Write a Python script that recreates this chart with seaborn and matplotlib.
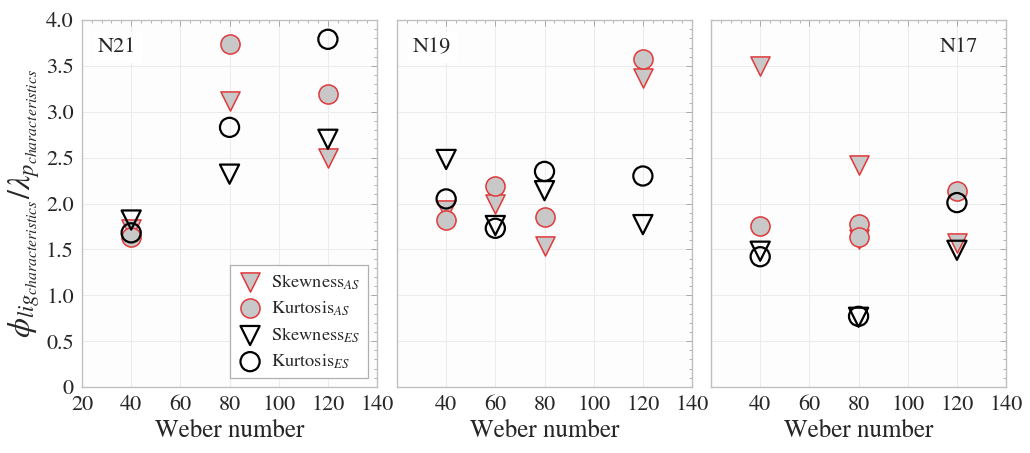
import numpy as np
import pandas as pd
import matplotlib
matplotlib.use("Agg")
import matplotlib.pyplot as plt
from matplotlib.ticker import MultipleLocator, FixedLocator, FixedFormatter
import seaborn as sns

# ---- data -------------------------------------------------------------
# N21 nozzle
n21_we_skew_as = [40, 80, 120]
n21_skew_as = [1.72, 3.12, 2.50]
n21_we_kurt_as = [40, 80, 120]
n21_kurt_as = [1.64, 3.74, 3.19]
n21_we_skew_es = [40, 80, 120]
n21_skew_es = [1.82, 2.32, 2.70]
n21_we_kurt_es = [40, 80, 120]
n21_kurt_es = [1.68, 2.83, 3.79]

# N19 nozzle
n19_we_skew_as = [40, 60, 80, 120]
n19_skew_as = [1.93, 2.00, 1.54, 3.37]
n19_we_kurt_as = [40, 60, 80, 120]
n19_kurt_as = [1.82, 2.19, 1.85, 3.57]
n19_we_skew_es = [40, 60, 80, 120]
n19_skew_es = [2.48, 1.76, 2.14, 1.77]
n19_we_kurt_es = [40, 60, 80, 120]
n19_kurt_es = [2.05, 1.73, 2.35, 2.30]

# N17 nozzle
n17_we_skew_as = [40, 80, 80, 120]
n17_skew_as = [3.50, 2.42, 1.61, 1.57]
n17_we_kurt_as = [40, 80, 80, 120]
n17_kurt_as = [1.76, 1.78, 1.63, 2.14]
n17_we_skew_es = [40, 80, 120]
n17_skew_es = [1.48, 0.76, 1.49]
n17_we_kurt_es = [40, 80, 120]
n17_kurt_es = [1.42, 0.77, 2.01]

panel_names = ["N21", "N19", "N17"]
series_labels = [r"Skewness$_{AS}$", r"Kurtosis$_{AS}$",
                 r"Skewness$_{ES}$", r"Kurtosis$_{ES}$"]
x_ticks = [20, 40, 60, 80, 100, 120, 140]
y_ticks = [0, 0.5, 1.0, 1.5, 2.0, 2.5, 3.0, 3.5, 4.0]
y_tick_labels = ["0", "0.5", "1.0", "1.5", "2.0", "2.5", "3.0", "3.5", "4.0"]

panels = [
    [(n21_we_skew_as, n21_skew_as), (n21_we_kurt_as, n21_kurt_as),
     (n21_we_skew_es, n21_skew_es), (n21_we_kurt_es, n21_kurt_es)],
    [(n19_we_skew_as, n19_skew_as), (n19_we_kurt_as, n19_kurt_as),
     (n19_we_skew_es, n19_skew_es), (n19_we_kurt_es, n19_kurt_es)],
    [(n17_we_skew_as, n17_skew_as), (n17_we_kurt_as, n17_kurt_as),
     (n17_we_skew_es, n17_skew_es), (n17_we_kurt_es, n17_kurt_es)],
]

# ---- style ------------------------------------------------------------
sns.set_theme(style="white")
plt.rcParams["font.family"] = ["STIXGeneral", "Liberation Serif", "DejaVu Serif"]
plt.rcParams["mathtext.fontset"] = "stix"

RED = "#e0393b"
FILL = "#c8c8c8"
styles = [
    dict(marker="v", facecolor=FILL, edgecolor=RED, linewidth=1.1),
    dict(marker="o", facecolor=FILL, edgecolor=RED, linewidth=1.1),
    dict(marker="v", facecolor="none", edgecolor="black", linewidth=1.6),
    dict(marker="o", facecolor="none", edgecolor="black", linewidth=1.6),
]
MS = 190

fig = plt.figure(figsize=(10.30, 4.53), dpi=100)
lefts = [0.0796, 0.3854, 0.6903]
width = 0.2865
bottom, top = 0.1457, 0.9558
axes = [fig.add_axes([l, bottom, width, top - bottom]) for l in lefts]

for i, (ax, series, name) in enumerate(zip(axes, panels, panel_names)):
    ax.set_facecolor("#fdfdfd")
    for (xs, ys), st, lab in zip(series, styles, series_labels):
        df = pd.DataFrame({"We": xs, "val": ys})
        sns.scatterplot(data=df, x="We", y="val", ax=ax, s=MS,
                        marker=st["marker"], facecolor=st["facecolor"],
                        edgecolor=st["edgecolor"], linewidth=st["linewidth"],
                        label=lab if i == 0 else None, legend=False, zorder=3)
    ax.set_xlim(20, 140)
    ax.set_ylim(0, 4.0)
    ax.xaxis.set_major_locator(FixedLocator(x_ticks))
    ax.xaxis.set_minor_locator(MultipleLocator(4))
    ax.yaxis.set_major_locator(FixedLocator(y_ticks))
    ax.yaxis.set_minor_locator(MultipleLocator(0.1))
    ax.grid(True, which="major", color="#ececec", linewidth=0.8, zorder=0)
    ax.set_axisbelow(True)
    ax.tick_params(which="both", direction="in", top=True, right=True,
                   color="#a8a8a8", labelsize=16, pad=6)
    ax.tick_params(which="major", length=4, width=0.7)
    ax.tick_params(which="minor", length=2.5, width=0.6)
    for sp in ax.spines.values():
        sp.set_color("#c0c0c0")
        sp.set_linewidth(1.0)
    if i == 0:
        ax.yaxis.set_major_formatter(FixedFormatter(y_tick_labels))
        ax.xaxis.set_major_formatter(FixedFormatter([str(t) for t in x_ticks]))
        ax.set_ylabel(r"$\phi_{lig_{characteristics}}/\lambda_{p_{characteristics}}$",
                      fontsize=23, labelpad=3)
    else:
        ax.set_yticklabels([])
        ax.set_ylabel("")
        ax.xaxis.set_major_formatter(
            FixedFormatter([""] + [str(t) for t in x_ticks[1:]]))
    ax.set_xlabel("Weber number", fontsize=18, labelpad=3)
    if i == 2:
        ax.text(0.84, 0.925, name, transform=ax.transAxes, fontsize=16,
                ha="center", va="center")
    else:
        ax.text(0.12, 0.925, name, transform=ax.transAxes, fontsize=16,
                ha="center", va="center",
                bbox=dict(facecolor="white", edgecolor="none", pad=4))

leg = axes[0].legend(loc="lower right", bbox_to_anchor=(0.968, 0.024),
                     fontsize=13.2, frameon=True, fancybox=False,
                     handletextpad=0.45, borderpad=0.4, labelspacing=0.42,
                     handlelength=1.4, markerscale=1.0, borderaxespad=0.0)
leg.get_frame().set_edgecolor("#b0b0b0")
leg.get_frame().set_linewidth(0.9)
leg.get_frame().set_facecolor("white")
leg.get_frame().set_alpha(1.0)

fig.savefig("out.png", dpi=100, facecolor="white")
